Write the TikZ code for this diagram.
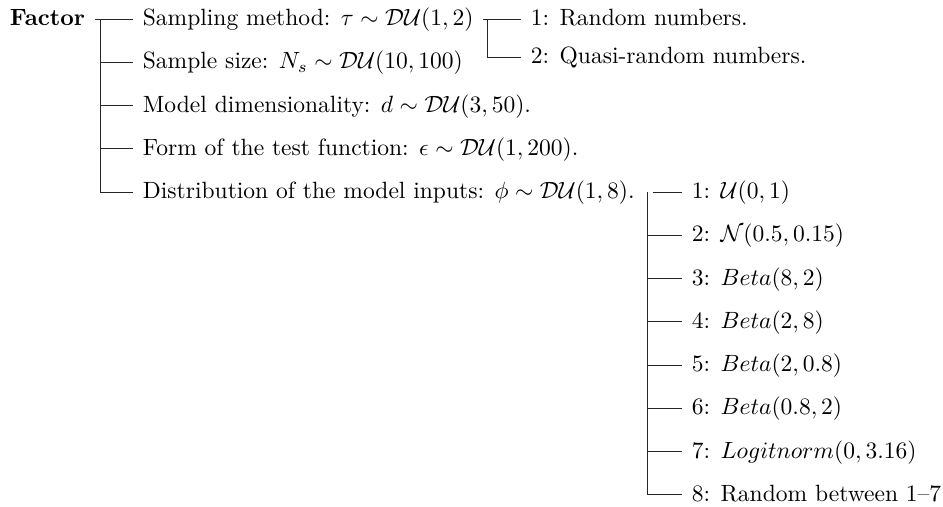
\documentclass[tikz,border=0pt]{standalone}
\usepackage{amsmath, amssymb}
\usepackage{tikz}
\usetikzlibrary{positioning, calc}

\tikzset{
    item/.style={anchor=west, inner sep=4pt, text height=7.6pt, text depth=2pt},
    branch/.style={black!85, line width=0.4pt},
}

\begin{document}
\begin{tikzpicture}[x=0.425pt, y=-0.425pt]
    \useasboundingbox (0,0) rectangle (943,506);

    % Root : Factor
    \node[item, anchor=east, font=\bfseries] (factor) at (95, 19) {Factor};
    \coordinate (fork) at (100, 19);

    % Level 1 : the five factors
    \node[item] (samp) at (133, 19) {Sampling method: $\tau \sim \mathcal{DU}(1,2)$};
    \node[item] (size) at (133, 62.25) {Sample size: $N_s \sim \mathcal{DU}(10,100)$};
    \node[item] (dim) at (133, 105.5) {Model dimensionality: $d \sim \mathcal{DU}(3,50)$.};
    \node[item] (form) at (133, 148.75) {Form of the test function: $\epsilon \sim \mathcal{DU}(1,200)$.};
    \node[item] (dist) at (133, 192) {Distribution of the model inputs: $\phi \sim \mathcal{DU}(1,8)$.};
    \draw[branch] (factor.east) -- (samp.west);
    \draw[branch] (fork) |- (size.west);
    \draw[branch] (fork) |- (dim.west);
    \draw[branch] (fork) |- (form.west);
    \draw[branch] (fork) |- (dist.west);

    % Level 2 : sampling method
    \coordinate (sfork) at (487, 19);
    \node[item] (rand) at (521, 19) {1: Random numbers.};
    \node[item] (quasi) at (521, 57) {2: Quasi-random numbers.};
    \draw[branch] (samp.east) -- (rand.west);
    \draw[branch] (sfork) |- (quasi.west);

    % Level 2 : distribution of the inputs
    \coordinate (dfork) at (647, 192);
    \node[item] (unif) at (682, 192) {1: $\mathcal{U}(0,1)$};
    \node[item] (norm) at (682, 235.25) {2: $\mathcal{N}(0.5,0.15)$};
    \node[item] (betaA) at (682, 278.5) {3: $Beta(8,2)$};
    \node[item] (betaB) at (682, 321.75) {4: $Beta(2,8)$};
    \node[item] (betaC) at (682, 365) {5: $Beta(2,0.8)$};
    \node[item] (betaD) at (682, 408.25) {6: $Beta(0.8,2)$};
    \node[item] (logit) at (682, 451.5) {7: $Logitnorm(0,3.16)$};
    \node[item] (mixed) at (682, 494.75) {8: Random between 1--7};
    \draw[branch] ($(dist.east)+(8,0)$) -- (unif.west);
    \draw[branch] (dfork) |- (norm.west);
    \draw[branch] (dfork) |- (betaA.west);
    \draw[branch] (dfork) |- (betaB.west);
    \draw[branch] (dfork) |- (betaC.west);
    \draw[branch] (dfork) |- (betaD.west);
    \draw[branch] (dfork) |- (logit.west);
    \draw[branch] (dfork) |- (mixed.west);
\end{tikzpicture}
\end{document}
